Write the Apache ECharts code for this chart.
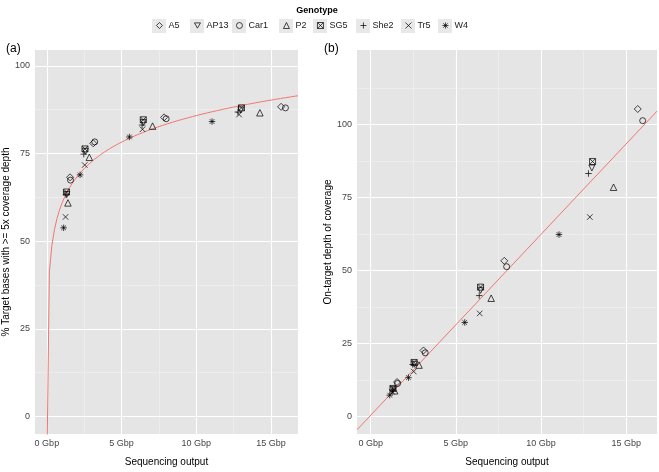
<!DOCTYPE html>
<html>
<head>
<meta charset="utf-8">
<script src="https://cdn.jsdelivr.net/npm/echarts@6/dist/echarts.min.js"></script>
<style>html,body{margin:0;padding:0;background:#fff}#c{width:659px;height:472px}</style>
</head>
<body>
<div id="c"></div>
<script>
// ---- data ----
const genotypes = ['A5', 'AP13', 'Car1', 'P2', 'SG5', 'She2', 'Tr5', 'W4'];
const A5_out = [1.55, 3.10, 7.84, 15.67];
const A5_pct = [68.2, 77.9, 85.3, 88.3];
const A5_depth = [11.8, 22.6, 53.3, 105.3];
const AP13_out = [1.33, 2.57, 6.45, 12.98];
const AP13_pct = [63.3, 75.6, 83.8, 87.4];
const AP13_depth = [9.2, 17.9, 43.2, 85.1];
const Car1_out = [1.58, 3.20, 7.98, 15.96];
const Car1_pct = [67.4, 78.3, 84.9, 88.0];
const Car1_depth = [11.3, 21.8, 51.3, 101.3];
const P2_out = [1.41, 2.84, 7.07, 14.25];
const P2_pct = [60.9, 73.9, 82.8, 86.6];
const P2_depth = [8.8, 17.6, 40.5, 78.5];
const SG5_out = [1.31, 2.55, 6.45, 13.02];
const SG5_pct = [64.0, 76.3, 84.6, 88.0];
const SG5_depth = [9.6, 18.5, 44.3, 87.3];
const She2_out = [1.28, 2.47, 6.37, 12.78];
const She2_pct = [63.2, 74.8, 83.1, 86.8];
const She2_depth = [9.0, 17.8, 41.4, 83.2];
const Tr5_out = [1.25, 2.53, 6.40, 12.86];
const Tr5_pct = [56.9, 71.7, 81.9, 86.1];
const Tr5_depth = [8.5, 15.4, 35.3, 68.3];
const W4_out = [1.12, 2.22, 5.52, 11.05];
const W4_pct = [53.8, 68.9, 79.7, 84.1];
const W4_depth = [7.3, 13.3, 32.2, 62.3];

const xTicks = [0, 5, 10, 15];
const xMinor = [2.5, 7.5, 12.5];
const yTicks = [0, 25, 50, 75, 100];
const yMinorA = [12.5, 37.5, 62.5, 87.5];
const yMinorB = [12.5, 37.5, 62.5, 87.5, 112.5];

// fitted models (coefficients)
const logFit = { a: 60.7, b: 10.9 };      // % = a + b*ln(Gbp)
const linFit = { a: 0.4, b: 6.2 };        // depth = a + b*Gbp

// ---- build ----
const outs = { A5: A5_out, AP13: AP13_out, Car1: Car1_out, P2: P2_out, SG5: SG5_out, She2: She2_out, Tr5: Tr5_out, W4: W4_out };
const pcts = { A5: A5_pct, AP13: AP13_pct, Car1: Car1_pct, P2: P2_pct, SG5: SG5_pct, She2: She2_pct, Tr5: Tr5_pct, W4: W4_pct };
const depths = { A5: A5_depth, AP13: AP13_depth, Car1: Car1_depth, P2: P2_depth, SG5: SG5_depth, She2: She2_depth, Tr5: Tr5_depth, W4: W4_depth };
const symbols = {
  A5: 'diamond',
  AP13: 'path://M-1,-0.9L1,-0.9L0,0.85Z',
  Car1: 'circle',
  P2: 'triangle',
  SG5: 'path://M-1,-1L1,-1L1,1L-1,1ZM-1,-1L1,1M1,-1L-1,1',
  She2: 'path://M0,-1L0,1M-1,0L1,0',
  Tr5: 'path://M-1,-1L1,1M1,-1L-1,1',
  W4: 'path://M0,-1L0,1M-1,0L1,0M-0.72,-0.72L0.72,0.72M0.72,-0.72L-0.72,0.72'
};
const symSize = { A5: 7, AP13: 6, Car1: 6, P2: 6.5, SG5: 6, She2: 6.5, Tr5: 5.5, W4: 6.5 };

const XMIN = -0.8, XMAX = 16.8;
const YA = [-5, 104.5], YB = [-6, 125.5];
const FONT = 'Liberation Sans, Arial, sans-serif';

const series = [];
function gridLines(idx, yMinor) {
  const d = [];
  xMinor.forEach(v => d.push({ xAxis: v, lineStyle: { color: '#F0F0F0', width: 0.7 } }));
  yMinor.forEach(v => d.push({ yAxis: v, lineStyle: { color: '#F0F0F0', width: 0.7 } }));
  xTicks.forEach(v => d.push({ xAxis: v, lineStyle: { color: '#FFFFFF', width: 1.1 } }));
  yTicks.forEach(v => d.push({ yAxis: v, lineStyle: { color: '#FFFFFF', width: 1.1 } }));
  return { type: 'line', xAxisIndex: idx, yAxisIndex: idx, data: [], silent: true, z: 1,
    markLine: { silent: true, symbol: ['none', 'none'], z: 1, animation: false,
      label: { show: false }, emphasis: { disabled: true }, lineStyle: { type: 'solid' }, data: d } };
}
series.push(gridLines(0, yMinorA));
series.push(gridLines(1, yMinorB));

// fit curves
const N = 101;
const curveA = [], lineB = [];
for (let i = 0; i < N; i++) {
  const x = XMAX * i / (N - 1);
  const y = x > 0 ? logFit.a + logFit.b * Math.log(x) : YA[0] - 10;
  curveA.push([x, y]);
}
lineB.push([XMIN, linFit.a + linFit.b * XMIN]);
lineB.push([XMAX, linFit.a + linFit.b * XMAX]);
series.push({ type: 'line', xAxisIndex: 0, yAxisIndex: 0, data: curveA, showSymbol: false, clip: true, z: 3,
  lineStyle: { color: '#F0766E', width: 1 }, silent: true });
series.push({ type: 'line', xAxisIndex: 1, yAxisIndex: 1, data: lineB, showSymbol: false, clip: true, z: 3,
  lineStyle: { color: '#F0766E', width: 1 }, silent: true });

genotypes.forEach(g => {
  const common = { type: 'scatter', name: g, symbol: symbols[g], symbolSize: symSize[g], z: 4,
    itemStyle: { color: 'rgba(0,0,0,0)', borderColor: '#000', borderWidth: 0.9 } };
  series.push(Object.assign({}, common, { xAxisIndex: 0, yAxisIndex: 0,
    data: outs[g].map((x, i) => [x, pcts[g][i]]) }));
  series.push(Object.assign({}, common, { xAxisIndex: 1, yAxisIndex: 1,
    data: outs[g].map((x, i) => [x, depths[g][i]]) }));
});

const keyCenters = [159, 197, 239, 286, 320, 363, 408, 445];
const legends = genotypes.map((g, i) => ({
  data: [g], left: keyCenters[i] - 3, top: 21, padding: 0, itemWidth: 6, itemHeight: 6,
  textStyle: { fontSize: 9, color: '#1a1a1a', fontFamily: FONT, padding: [0, 0, 0, 1] },
  itemStyle: { color: 'rgba(0,0,0,0)', borderColor: '#000', borderWidth: 0.9 }
}));
const keyBoxes = keyCenters.map(c => ({ type: 'rect', left: c - 7, top: 19, z: 0,
  shape: { width: 14, height: 14 }, style: { fill: '#E8E8E8' } }));

function xAxisCfg(idx) {
  return { type: 'value', gridIndex: idx, min: XMIN, max: XMAX,
    name: 'Sequencing output', nameLocation: 'middle', nameGap: 23,
    nameTextStyle: { fontSize: 10, color: '#000', fontFamily: FONT },
    axisLine: { show: false },
    axisTick: { show: true, customValues: xTicks, length: 3, lineStyle: { color: '#555' } },
    axisLabel: { customValues: xTicks, formatter: v => v + ' Gbp', fontSize: 9, color: '#444', margin: 5, fontFamily: FONT },
    splitLine: { show: false } };
}
function yAxisCfg(idx, range, name, gap) {
  return { type: 'value', gridIndex: idx, min: range[0], max: range[1],
    name: name, nameLocation: 'middle', nameGap: gap,
    nameTextStyle: { fontSize: 10, color: '#000', fontFamily: FONT },
    axisLine: { show: false },
    axisTick: { show: true, customValues: yTicks, length: 3, lineStyle: { color: '#555' } },
    axisLabel: { customValues: yTicks, fontSize: 9, color: '#444', margin: 5, fontFamily: FONT },
    splitLine: { show: false } };
}

const option = {
  animation: false,
  backgroundColor: '#fff',
  title: [
    { text: 'Genotype', left: 312, textAlign: 'center', top: 1, textStyle: { fontSize: 9, fontWeight: 'bold', color: '#000', fontFamily: FONT } },
    { text: '(a)', left: 1, top: 38, textStyle: { fontSize: 12, fontWeight: 'normal', color: '#000', fontFamily: FONT } },
    { text: '(b)', left: 319, top: 38, textStyle: { fontSize: 12, fontWeight: 'normal', color: '#000', fontFamily: FONT } }
  ],
  legend: legends,
  graphic: keyBoxes,
  grid: [
    { left: 34, top: 50, width: 264, height: 387, show: true, backgroundColor: '#E5E5E5', borderWidth: 0 },
    { left: 357, top: 50, width: 300, height: 387, show: true, backgroundColor: '#E5E5E5', borderWidth: 0 }
  ],
  xAxis: [xAxisCfg(0), xAxisCfg(1)],
  yAxis: [
    yAxisCfg(0, YA, '% Target bases with >= 5x coverage depth', 19.5),
    yAxisCfg(1, YB, 'On-target depth of coverage', 18)
  ],
  series: series
};

const chart = echarts.init(document.getElementById('c'), null, { renderer: 'canvas' });
chart.setOption(option);
</script>
</body>
</html>
